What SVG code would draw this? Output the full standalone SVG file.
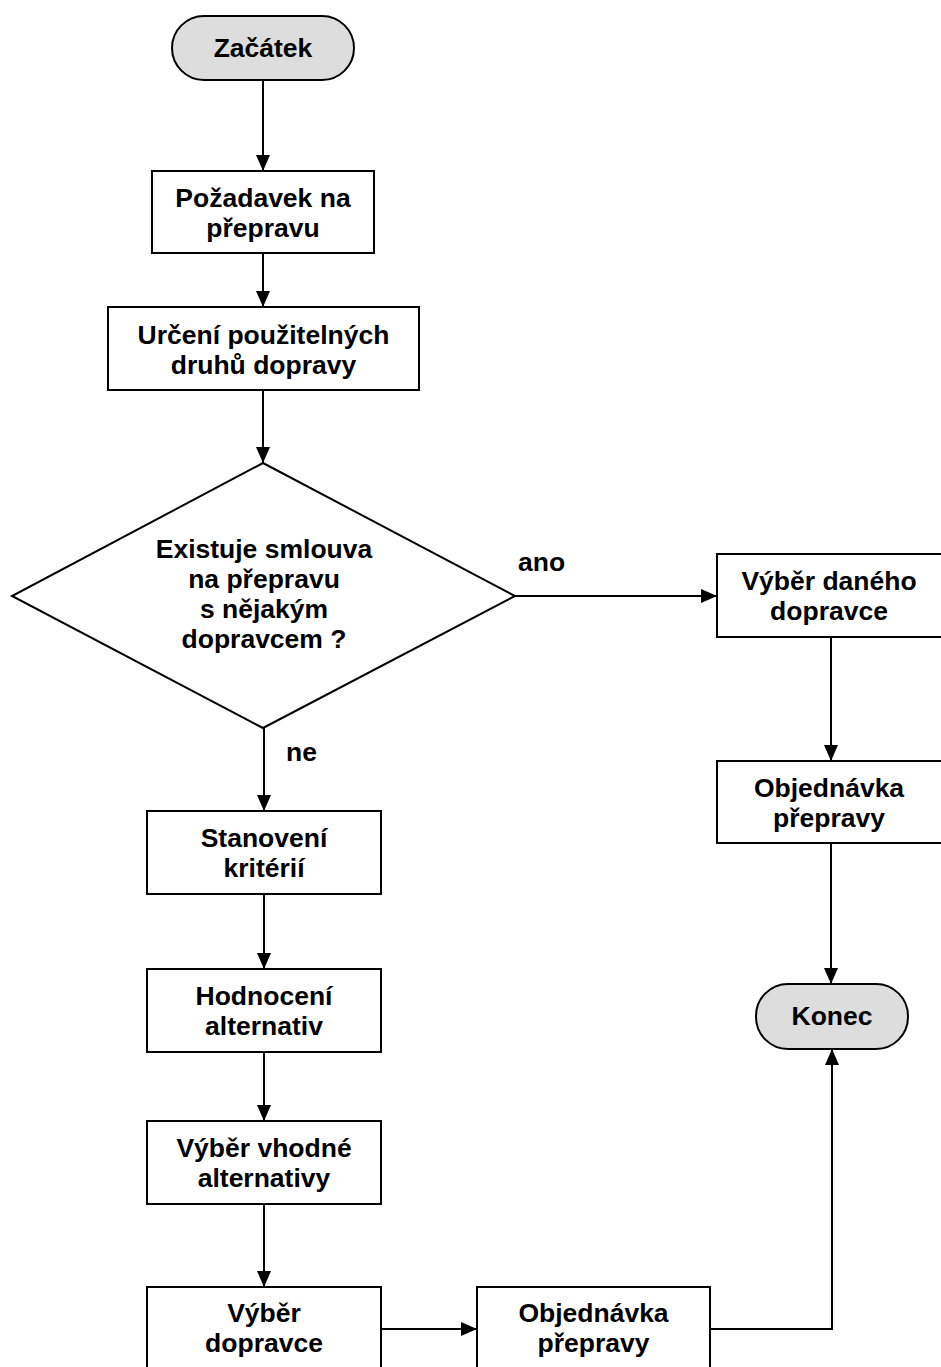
<svg xmlns="http://www.w3.org/2000/svg" width="941" height="1367" viewBox="0 0 941 1367">
<style>
.n{fill:#fff;stroke:#000;stroke-width:2}
.t{fill:#ddd;stroke:#000;stroke-width:2}
text{font-family:"Liberation Sans",Arial,sans-serif;font-weight:bold;font-size:26.5px;text-anchor:middle;fill:#000}
.l{text-anchor:start}
.c{fill:none;stroke:#000;stroke-width:2}
</style>
<defs>
<marker id="a" markerUnits="userSpaceOnUse" markerWidth="16" markerHeight="14" refX="16" refY="7" orient="auto">
<path d="M0,0 L16,7 L0,14 z" fill="#000"/>
</marker>
</defs>
<rect width="941" height="1367" fill="#fff"/>
<g id="connectors">
<path class="c" d="M263,80 V171" marker-end="url(#a)"/>
<path class="c" d="M263,253 V307" marker-end="url(#a)"/>
<path class="c" d="M263,390 V463" marker-end="url(#a)"/>
<path class="c" d="M515,596 H717" marker-end="url(#a)"/>
<path class="c" d="M264,728 V811" marker-end="url(#a)"/>
<path class="c" d="M264,894 V969" marker-end="url(#a)"/>
<path class="c" d="M264,1052 V1121" marker-end="url(#a)"/>
<path class="c" d="M264,1204 V1287" marker-end="url(#a)"/>
<path class="c" d="M381,1329 H477" marker-end="url(#a)"/>
<path class="c" d="M831,637 V761" marker-end="url(#a)"/>
<path class="c" d="M831,843 V984" marker-end="url(#a)"/>
<path class="c" d="M710,1329 H832 V1049" marker-end="url(#a)"/>
<text class="l" x="518" y="571">ano</text>
<text class="l" x="286" y="761">ne</text>
</g>
<g id="start">
<rect class="t" x="172" y="16" width="182" height="64" rx="32"/>
<text x="263" y="57">Začátek</text>
</g>
<g id="pozadavek">
<rect class="n" x="152" y="171" width="222" height="82"/>
<text x="263" y="207">Požadavek na</text>
<text x="263" y="237">přepravu</text>
</g>
<g id="urceni">
<rect class="n" x="108" y="307" width="311" height="83"/>
<text x="263.5" y="344">Určení použitelných</text>
<text x="263.5" y="374">druhů dopravy</text>
</g>
<g id="decision">
<polygon class="n" points="263,463 515,596 263,728 12,596"/>
<text x="264" y="558">Existuje smlouva</text>
<text x="264" y="588">na přepravu</text>
<text x="264" y="618">s nějakým</text>
<text x="264" y="648">dopravcem ?</text>
</g>
<g id="vyber-daneho">
<rect class="n" x="717" y="554" width="226" height="83"/>
<text x="829" y="590">Výběr daného</text>
<text x="829" y="620">dopravce</text>
</g>
<g id="objednavka1">
<rect class="n" x="717" y="761" width="226" height="82"/>
<text x="829" y="797">Objednávka</text>
<text x="829" y="827">přepravy</text>
</g>
<g id="konec">
<rect class="t" x="756" y="984" width="152" height="65" rx="32"/>
<text x="832" y="1025">Konec</text>
</g>
<g id="stanoveni">
<rect class="n" x="147" y="811" width="234" height="83"/>
<text x="264" y="847">Stanovení</text>
<text x="264" y="877">kritérií</text>
</g>
<g id="hodnoceni">
<rect class="n" x="147" y="969" width="234" height="83"/>
<text x="264" y="1005">Hodnocení</text>
<text x="264" y="1035">alternativ</text>
</g>
<g id="vyber-vhodne">
<rect class="n" x="147" y="1121" width="234" height="83"/>
<text x="264" y="1157">Výběr vhodné</text>
<text x="264" y="1187">alternativy</text>
</g>
<g id="vyber-dopravce">
<rect class="n" x="147" y="1287" width="234" height="83"/>
<text x="264" y="1322">Výběr</text>
<text x="264" y="1352">dopravce</text>
</g>
<g id="objednavka2">
<rect class="n" x="477" y="1287" width="233" height="83"/>
<text x="593.5" y="1322">Objednávka</text>
<text x="593.5" y="1352">přepravy</text>
</g>
</svg>
